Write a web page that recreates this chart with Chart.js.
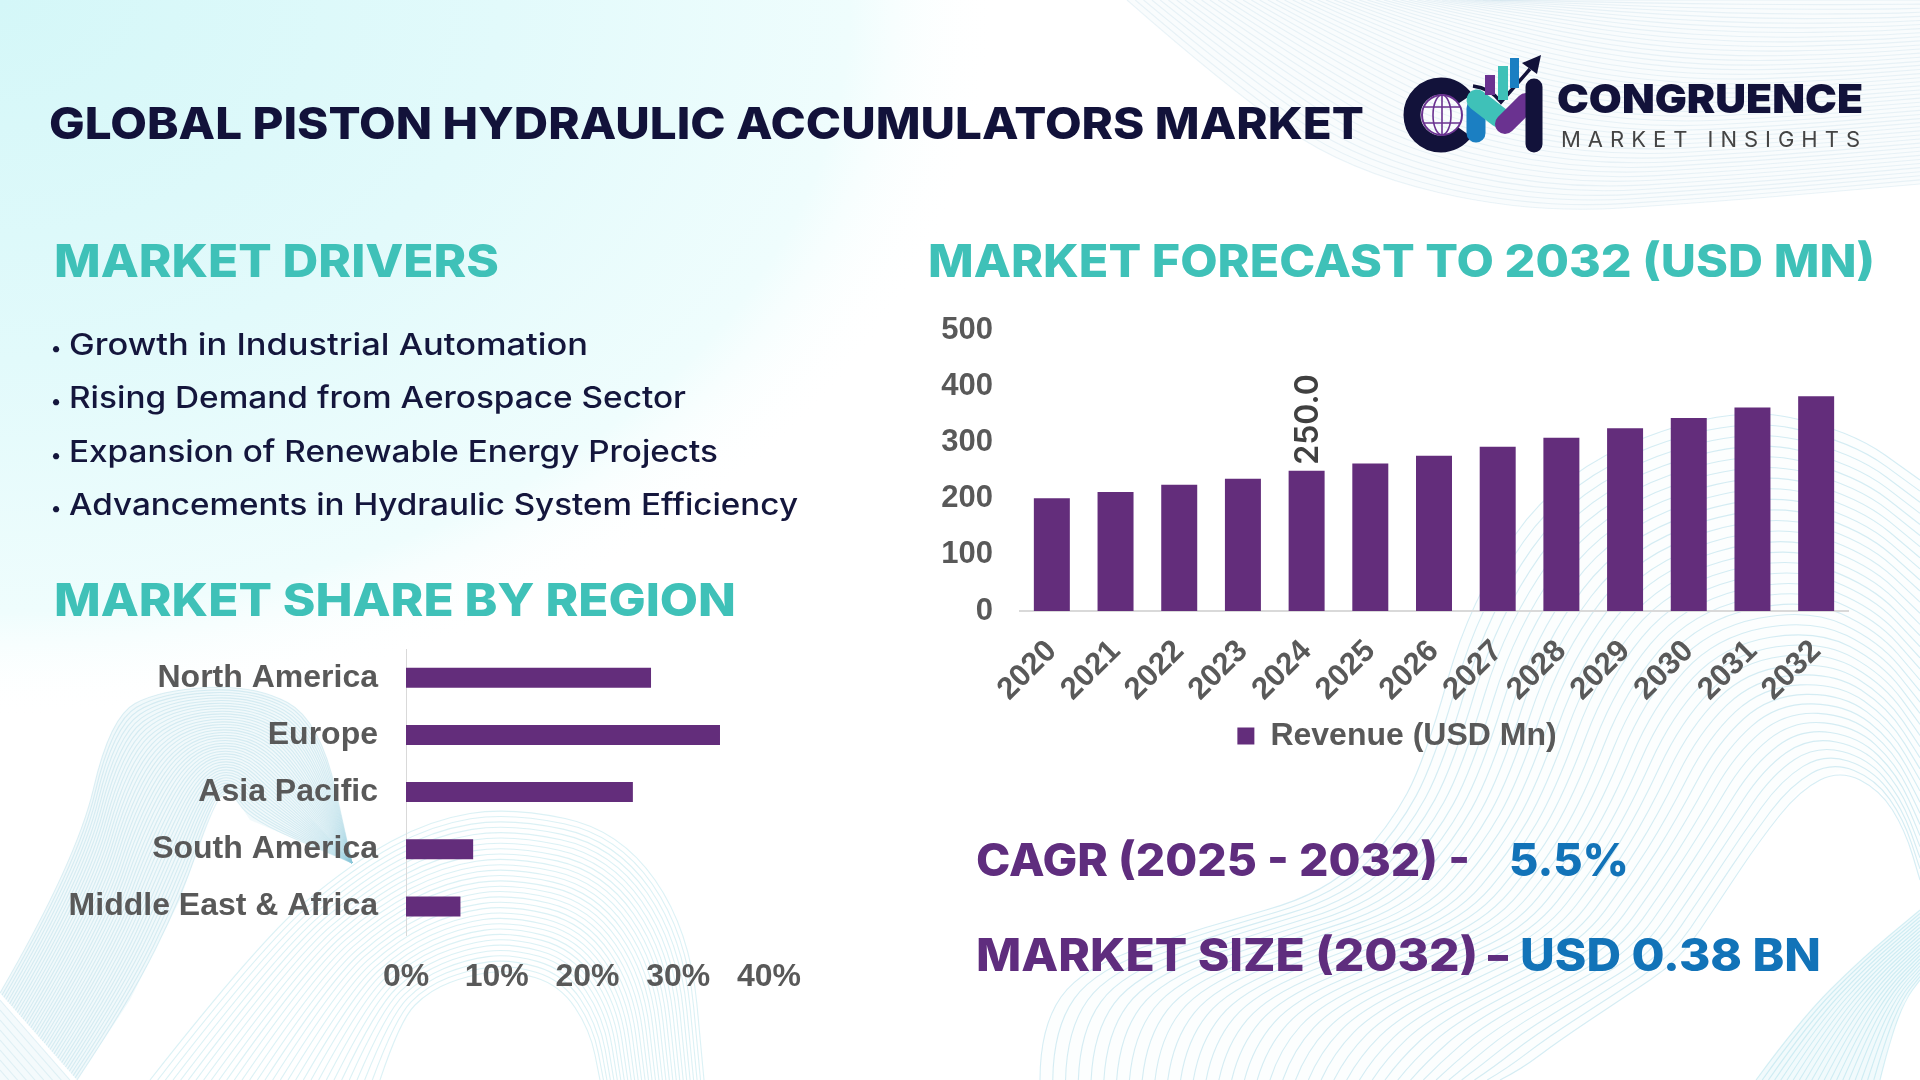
<!DOCTYPE html>
<html>
<head>
<meta charset="utf-8">
<title>Global Piston Hydraulic Accumulators Market</title>
<script src="https://cdn.jsdelivr.net/npm/chart.js@4"></script>
<style>
    html, body { margin: 0; padding: 0; background: #fff; }
    #page { position: relative; width: 1920px; height: 1080px; overflow: hidden; }
    #page canvas, #page svg { position: absolute; }
    #overlay text { font-family: 'Inter', sans-serif; }
    .head { font-size: 45px; font-weight: 800; fill: #3fc1b8; }
    .bullet { font-size: 30px; font-weight: 500; fill: #14163c; }
    .dot { font-size: 20px; font-weight: 500; fill: #14163c; text-anchor: middle; }
    .stat { font-size: 45px; font-weight: 800; fill: #5f2d7e; }
    .statValue { font-size: 45px; font-weight: 800; fill: #1273b8; }
</style>
</head>
<body>
<div id="page">
    <canvas id="bgCanvas" width="1920" height="1080" style="left:0;top:0"></canvas>

    <svg id="overlay" width="1920" height="1080" style="left:0;top:0">
        <text x="49" y="139" font-size="44" font-weight="800" fill="#12123a" textLength="1315" lengthAdjust="spacingAndGlyphs">GLOBAL PISTON HYDRAULIC ACCUMULATORS MARKET</text>

        <text class="head" x="54" y="277" textLength="445" lengthAdjust="spacingAndGlyphs">MARKET DRIVERS</text>
        <text class="head" x="928" y="277" textLength="947" lengthAdjust="spacingAndGlyphs">MARKET FORECAST TO 2032 (USD MN)</text>
        <text class="head" x="54" y="616" textLength="682" lengthAdjust="spacingAndGlyphs">MARKET SHARE BY REGION</text>

        <text class="dot" x="56" y="355">•</text>
        <text class="bullet" x="69" y="355" textLength="519" lengthAdjust="spacingAndGlyphs">Growth in Industrial Automation</text>
        <text class="dot" x="56" y="408">•</text>
        <text class="bullet" x="69" y="408" textLength="617" lengthAdjust="spacingAndGlyphs">Rising Demand from Aerospace Sector</text>
        <text class="dot" x="56" y="462">•</text>
        <text class="bullet" x="69" y="462" textLength="649" lengthAdjust="spacingAndGlyphs">Expansion of Renewable Energy Projects</text>
        <text class="dot" x="56" y="515">•</text>
        <text class="bullet" x="69" y="515" textLength="729" lengthAdjust="spacingAndGlyphs">Advancements in Hydraulic System Efficiency</text>

        <text class="stat" x="976" y="876" textLength="494" lengthAdjust="spacingAndGlyphs">CAGR (2025 - 2032) -</text>
        <text class="statValue" x="1509" y="876" textLength="120" lengthAdjust="spacingAndGlyphs">5.5%</text>
        <text class="stat" x="976" y="971" textLength="502" lengthAdjust="spacingAndGlyphs">MARKET SIZE (2032)</text>
        <text class="stat" x="1488" y="971" textLength="20" lengthAdjust="spacingAndGlyphs">–</text>
        <text class="statValue" x="1520" y="971" textLength="301" lengthAdjust="spacingAndGlyphs">USD 0.38 BN</text>

        <!-- logo -->
        <g fill="none" stroke-linecap="round">
            <circle cx="1441" cy="115" r="29" stroke="#12123a" stroke-width="17" stroke-linecap="butt" stroke-dasharray="147 35" stroke-dashoffset="-18"/>
            <circle cx="1442" cy="115" r="20" stroke="#6a3290" stroke-width="2"/>
            <ellipse cx="1442" cy="115" rx="9" ry="20" stroke="#6a3290" stroke-width="1.6"/>
            <path d="M1442 95V135M1424 107H1460M1424 123H1460" stroke="#6a3290" stroke-width="1.6"/>
            <path d="M1476 108V133" stroke="#1b7fc2" stroke-width="19"/>
            <path d="M1477 100L1499 117" stroke="#3fc1b8" stroke-width="21"/>
            <path d="M1505 124L1526 103" stroke="#6a3290" stroke-width="20"/>
            <path d="M1534 87V144" stroke="#12123a" stroke-width="17"/>
            <path d="M1473 86Q1490 88 1501 102L1530 69" stroke="#12123a" stroke-width="3.5" stroke-linecap="butt"/>
        </g>
        <rect x="1485" y="75" width="10" height="20" fill="#6a3290"/>
        <rect x="1498" y="66" width="10" height="34" fill="#3fc1b8"/>
        <rect x="1510" y="58" width="9" height="30" fill="#1b7fc2"/>
        <path d="M1541 55L1522 63L1537 74Z" fill="#12123a"/>
        <text x="1557" y="113" font-size="40" font-weight="900" fill="#12123a" textLength="306" lengthAdjust="spacingAndGlyphs">CONGRUENCE</text>
        <text x="1561" y="147" font-size="22" font-weight="400" fill="#444444" textLength="299" lengthAdjust="spacing">MARKET INSIGHTS</text>
    </svg>

    <canvas id="regionChart" width="800" height="420" style="left:40px;top:610px"></canvas>
    <canvas id="forecastChart" width="960" height="469" style="left:920px;top:293px"></canvas>
</div>

<script>
// Market share by region (percent)
const regionLabels = ['North America', 'Europe', 'Asia Pacific', 'South America', 'Middle East & Africa'];
const regionValues = [27, 34.6, 25, 7.4, 6];
const regionTicks = [0, 10, 20, 30, 40];

// Market forecast (USD Mn)
const forecastYears = ['2020', '2021', '2022', '2023', '2024', '2025', '2026', '2027', '2028', '2029', '2030', '2031', '2032'];
const forecastValues = [201, 212, 225, 236, 250, 263, 277, 293, 309, 326, 344, 363, 383];
const forecastTicks = [0, 100, 200, 300, 400, 500];
const forecastSeriesName = 'Revenue (USD Mn)';
const labelledYear = '2024';

const barColor = '#632d7b';
const textColor = '#595959';
const axisColor = '#d9d9d9';

Chart.defaults.font.family = "'Liberation Sans', Arial, sans-serif";
Chart.defaults.font.weight = 'bold';
Chart.defaults.font.size = 32;
Chart.defaults.color = textColor;
Chart.defaults.animation = false;

// Smooth line through a list of points
function tracePath(ctx, pts) {
    ctx.moveTo(pts[0][0], pts[0][1]);
    for (let k = 1; k < pts.length - 1; k++) {
        ctx.quadraticCurveTo(pts[k][0], pts[k][1], (pts[k][0] + pts[k + 1][0]) / 2, (pts[k][1] + pts[k + 1][1]) / 2);
    }
    ctx.lineTo(pts[pts.length - 1][0], pts[pts.length - 1][1]);
}

// Background: family of lines blended from one outline to another
function drawMesh(ctx, curveA, curveB, count, color, fill) {
    if (fill) {
        ctx.fillStyle = fill;
        ctx.beginPath();
        tracePath(ctx, curveA);
        curveB.slice().reverse().forEach(p => ctx.lineTo(p[0], p[1]));
        ctx.closePath();
        ctx.fill();
    }
    ctx.strokeStyle = color;
    ctx.lineWidth = 1.1;
    for (let i = 0; i <= count; i++) {
        const t = i / count;
        const pts = curveA.map((p, k) => [p[0] + (curveB[k][0] - p[0]) * t, p[1] + (curveB[k][1] - p[1]) * t]);
        ctx.beginPath();
        tracePath(ctx, pts);
        ctx.stroke();
    }
}

function drawBackground() {
    const ctx = document.getElementById('bgCanvas').getContext('2d');
    ctx.fillStyle = '#ffffff';
    ctx.fillRect(0, 0, 1920, 1080);

    ctx.save();
    ctx.scale(1, 0.72);
    const corner = ctx.createRadialGradient(0, 0, 0, 0, 0, 1000);
    corner.addColorStop(0, '#d4f7f8');
    corner.addColorStop(0.5, '#e2fafb');
    corner.addColorStop(0.85, '#effdfd');
    corner.addColorStop(1, 'rgba(255,255,255,0)');
    ctx.fillStyle = corner;
    ctx.fillRect(0, 0, 1920, 1500);
    ctx.restore();

    // top right
    drawMesh(ctx,
        [[1127, 0], [1225, 86], [1347, 171], [1530, 214], [1714, 202], [1920, 184]],
        [[1500, 0], [1600, 0], [1700, 0], [1800, 0], [1900, 0], [1920, 0]],
        45, 'rgba(170,205,225,0.22)', 'rgba(225,240,246,0.2)');

    // bottom left ribbon
    drawMesh(ctx,
        [[0, 993], [77, 860], [110, 717], [160, 690], [255, 685], [320, 720], [352, 863]],
        [[77, 1080], [130, 1000], [180, 900], [215, 800], [230, 790], [250, 820], [352, 863]],
        40, 'rgba(140,200,220,0.28)', 'rgba(200,232,240,0.26)');
    drawMesh(ctx, [[0, 1000], [70, 1080]], [[0, 1080], [0, 1080]], 8, 'rgba(140,200,220,0.22)', 'rgba(200,232,240,0.2)');

    // bottom left arches
    drawMesh(ctx,
        [[150, 1080], [260, 940], [352, 863], [430, 820], [510, 807], [620, 830], [690, 930], [704, 1080]],
        [[380, 1080], [400, 1020], [430, 990], [470, 975], [510, 970], [560, 985], [590, 1030], [600, 1080]],
        30, 'rgba(150,215,225,0.34)');

    // bottom right wave
    drawMesh(ctx,
        [[1040, 1080], [1040, 1027], [1082, 967], [1205, 927], [1327, 893], [1389, 827], [1425, 760], [1470, 600], [1560, 470], [1730, 405], [1850, 430], [1920, 480]],
        [[1500, 1080], [1520, 1070], [1560, 1040], [1620, 1000], [1680, 960], [1720, 900], [1760, 840], [1800, 790], [1840, 770], [1880, 790], [1905, 830], [1920, 880]],
        36, 'rgba(140,205,225,0.36)', 'rgba(235,248,251,0.15)');
    drawMesh(ctx,
        [[1756, 1080], [1800, 1020], [1860, 960], [1920, 910]],
        [[1880, 1080], [1890, 1040], [1905, 1000], [1920, 980]],
        20, 'rgba(140,210,225,0.34)', 'rgba(215,240,245,0.35)');
}

// Rotated value label above the highlighted bar
const valueLabelPlugin = {
    id: 'valueLabel',
    afterDatasetsDraw(chart) {
        const index = forecastYears.indexOf(labelledYear);
        const bar = chart.getDatasetMeta(0).data[index];
        const ctx = chart.ctx;
        ctx.save();
        ctx.translate(bar.x + 2, bar.y - 6);
        ctx.rotate(-Math.PI / 2);
        ctx.font = "600 32px 'Inter'";
        ctx.fillStyle = '#404040';
        ctx.textAlign = 'left';
        ctx.textBaseline = 'middle';
        ctx.fillText(forecastValues[index].toFixed(1), 0, 0);
        ctx.restore();
    }
};

// The reference legend sits centred under the whole picture column, not the chart box
const legendShiftPlugin = {
    id: 'legendShift',
    afterLayout(chart) {
        chart.legend.left += 13;
        chart.legend.right += 13;
    }
};

function initializeForecastChart() {
    new Chart(document.getElementById('forecastChart'), {
        type: 'bar',
        data: {
            labels: forecastYears,
            datasets: [{
                label: forecastSeriesName,
                data: forecastValues,
                backgroundColor: barColor,
                categoryPercentage: 1,
                barPercentage: 0.565
            }]
        },
        options: {
            responsive: false,
            layout: { padding: { top: 14, right: 32 } },
            plugins: {
                tooltip: { enabled: false },
                legend: {
                    position: 'bottom',
                    labels: { boxWidth: 17, boxHeight: 17, padding: 9, color: textColor }
                }
            },
            scales: {
                x: {
                    grid: { display: false },
                    border: { color: axisColor, width: 2 },
                    afterFit: scale => { scale.height = 100; },
                    ticks: { minRotation: 45, maxRotation: 45, padding: 14, autoSkip: false, font: { size: 31 } }
                },
                y: {
                    min: 0,
                    max: 500,
                    afterFit: scale => { scale.width = 100; },
                    afterBuildTicks: scale => { scale.ticks = forecastTicks.map(value => ({ value })); },
                    grid: { display: false },
                    border: { display: false },
                    ticks: { padding: 19, font: { size: 31 } }
                }
            }
        },
        plugins: [valueLabelPlugin, legendShiftPlugin]
    });
}

function initializeRegionChart() {
    new Chart(document.getElementById('regionChart'), {
        type: 'bar',
        data: {
            labels: regionLabels,
            datasets: [{
                data: regionValues,
                backgroundColor: barColor,
                categoryPercentage: 1,
                barPercentage: 0.35
            }]
        },
        options: {
            indexAxis: 'y',
            responsive: false,
            layout: { padding: { top: 27, right: 71 } },
            plugins: { legend: { display: false }, tooltip: { enabled: false } },
            scales: {
                x: {
                    min: 0,
                    max: 40,
                    afterFit: scale => { scale.height = 95; },
                    afterBuildTicks: scale => { scale.ticks = regionTicks.map(value => ({ value })); },
                    grid: { display: false },
                    border: { display: false },
                    ticks: { padding: 15, maxRotation: 0, callback: value => value + '%' }
                },
                y: {
                    afterFit: scale => { scale.width = 366; },
                    grid: { display: false },
                    border: { color: axisColor, width: 1 },
                    ticks: { padding: 20 }
                }
            }
        }
    });
}

drawBackground();
initializeForecastChart();
initializeRegionChart();
</script>
</body>
</html>
